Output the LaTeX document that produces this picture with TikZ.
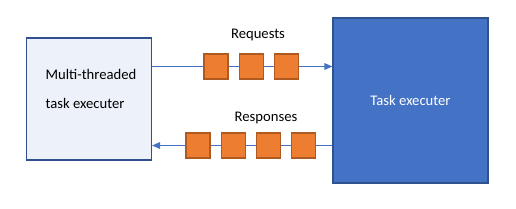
\documentclass[tikz,border=0pt]{standalone}
\usepackage{fontspec}
\setmainfont{Carlito}
\usetikzlibrary{positioning, arrows.meta}

\definecolor{edgeblue}{HTML}{2F528F}
\definecolor{paleblue}{HTML}{EDF2FA}
\definecolor{mainblue}{HTML}{4472C4}
\definecolor{msgfill}{HTML}{ED7D31}
\definecolor{msgedge}{HTML}{AE5A21}

\begin{document}
\begin{tikzpicture}[
  x=0.75pt, y=-0.75pt,
  node distance=7.5pt,
  font=\fontsize{11pt}{13pt}\selectfont,
  unit/.style={draw=edgeblue, line width=0.9pt, inner sep=0pt},
  msg/.style={draw=msgedge, fill=msgfill, line width=0.8pt, minimum width=18pt, minimum height=18.75pt, inner sep=0pt},
  link/.style={draw=mainblue, line width=0.8pt}
]
  \useasboundingbox (0,0) rectangle (516,208);

  % the two executers
  \node[unit, fill=paleblue, minimum width=93.75pt, minimum height=91.5pt] (client) at (89,99) {};
  \node[align=left] (clientlbl) at (91,89) {Multi-threaded\\[9pt]task executer};
  \node[unit, fill=mainblue, minimum width=116.25pt, minimum height=123.75pt, text=white] (server) at (410.5,100.5) {Task executer};

  % requests
  \node[msg] (req1) at (216,66.5) {};
  \node[msg, right=of req1] (req2) {};
  \node[msg, right=of req2] (req3) {};
  \node (reqlbl) at (258,35) {Requests};

  % responses
  \node[msg] (resp1) at (198,145.5) {};
  \node[msg, right=of resp1] (resp2) {};
  \node[msg, right=of resp2] (resp3) {};
  \node[msg, right=of resp3] (resp4) {};
  \node (resplbl) at (266,118) {Responses};

  \draw[link] (client.east |- req1.west) -- (req1);
  \draw[link] (req1) -- (req2);
  \draw[link] (req2) -- (req3);
  \draw[link, -{Triangle[length=6pt, width=5pt]}] (req3) -- (server.west |- req3.east);

  \draw[link] (server.west |- resp4.east) -- (resp4);
  \draw[link] (resp4) -- (resp3);
  \draw[link] (resp3) -- (resp2);
  \draw[link] (resp2) -- (resp1);
  \draw[link, -{Triangle[length=6pt, width=5pt]}] (resp1) -- (client.east |- resp1.west);
\end{tikzpicture}
\end{document}
